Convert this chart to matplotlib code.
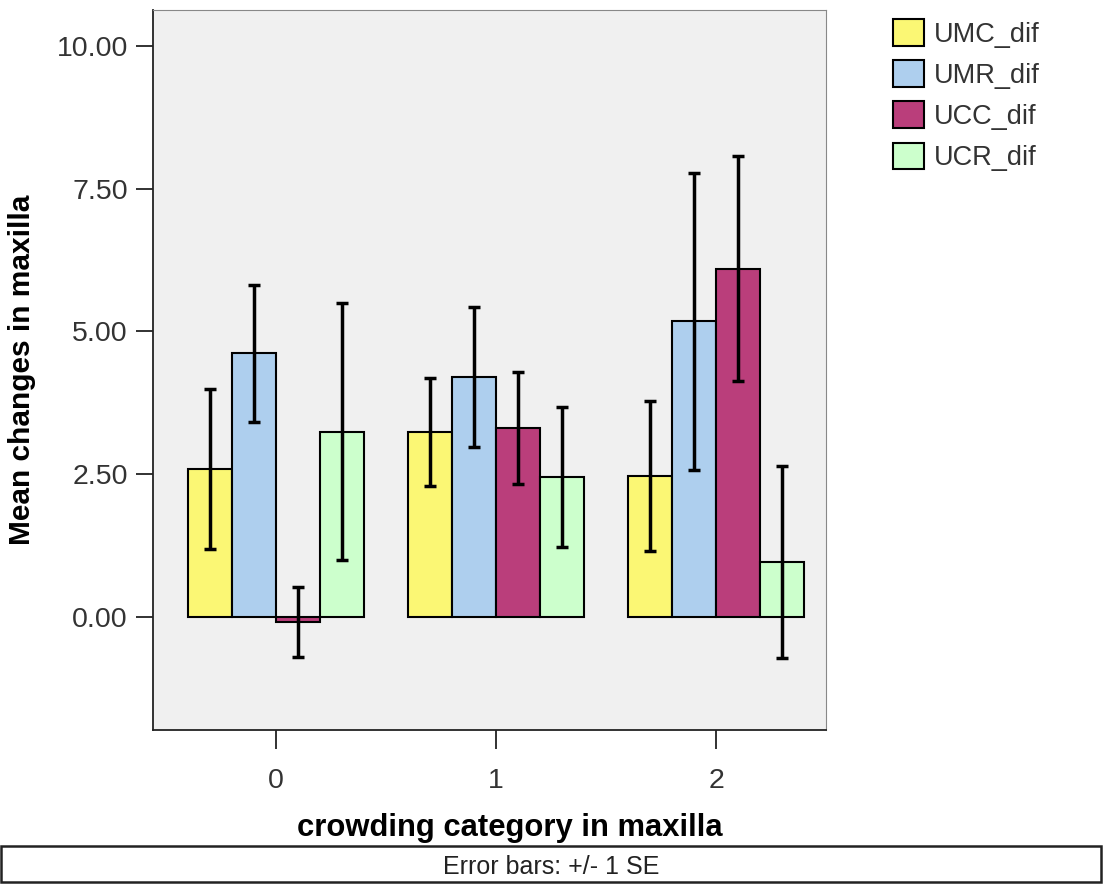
import matplotlib
matplotlib.use("Agg")
import matplotlib.pyplot as plt
import numpy as np
from matplotlib.patches import Rectangle

plt.rcParams['font.family'] = ['Liberation Sans', 'DejaVu Sans']

categories = ["0", "1", "2"]
series_names = ["UMC_dif", "UMR_dif", "UCC_dif", "UCR_dif"]
colors = ["#FBF774", "#AECFEE", "#BA3E7B", "#CCFFCC"]

umc = [2.59, 3.24, 2.47]
umc_se = [1.40, 0.94, 1.32]
umr = [4.62, 4.20, 5.18]
umr_se = [1.20, 1.22, 2.60]
ucc = [-0.09, 3.31, 6.10]
ucc_se = [0.62, 0.98, 1.97]
ucr = [3.24, 2.45, 0.96]
ucr_se = [2.25, 1.23, 1.68]

yticks = [0.0, 2.5, 5.0, 7.5, 10.0]
ytick_labels = ["0.00", "2.50", "5.00", "7.50", "10.00"]

means = [umc, umr, ucc, ucr]
ses = [umc_se, umr_se, ucc_se, ucr_se]

fig = plt.figure(figsize=(11.03, 8.84), dpi=100)
ax = fig.add_axes([0.1387, 0.1742, 0.6102, 0.8145])
ax.set_facecolor("#F0F0F0")

x = np.arange(len(categories))
w = 0.2
for i, (m, s, c, name) in enumerate(zip(means, ses, colors, series_names)):
    pos = x + (i - 1.5) * w
    ax.bar(pos, m, width=w, color=c, edgecolor="black", linewidth=1.5, label=name, zorder=2)
    ax.errorbar(pos, m, yerr=s, fmt="none", ecolor="black", elinewidth=2.5,
                capsize=4.5, capthick=2.5, zorder=3)

ax.set_xlim(-0.56, 2.50)
ax.set_ylim(-1.98, 10.63)
ax.set_xticks(x)
ax.set_xticklabels(categories)
ax.set_yticks(yticks)
ax.set_yticklabels(ytick_labels)
ax.tick_params(axis="both", labelsize=20.5, labelcolor="#333333", color="#222222",
               length=12, width=1.3)
ax.tick_params(axis="x", length=14, pad=13)
ax.tick_params(axis="y", pad=6)
for sp in ["left", "bottom"]:
    ax.spines[sp].set_color("#222222")
    ax.spines[sp].set_linewidth(1.3)
for sp in ["top", "right"]:
    ax.spines[sp].set_color("#888888")
    ax.spines[sp].set_linewidth(0.8)

ax.set_ylabel("Mean changes in maxilla", fontsize=21.5, fontweight="bold", labelpad=15)
ax.set_xlabel("crowding category in maxilla", fontsize=22.3, fontweight="bold", labelpad=14)
ax.xaxis.label.set_x(0.530)

leg = ax.legend(loc="upper left", bbox_to_anchor=(1.0996, 0.987), frameon=False,
                fontsize=19.5, handlelength=1.15, handleheight=1.15,
                handletextpad=0.37, labelspacing=0.46, borderaxespad=0.0, borderpad=0.0)
for t in leg.get_texts():
    t.set_color("#333333")

fig.patches.append(Rectangle((0.001, 0.002), 0.997, 0.041, transform=fig.transFigure,
                             facecolor="white", edgecolor="#222222", linewidth=1.8))
fig.text(0.5, 0.019, "Error bars: +/- 1 SE", ha="center", va="center", fontsize=18, color="#222222")

fig.savefig("out.png", dpi=100)
